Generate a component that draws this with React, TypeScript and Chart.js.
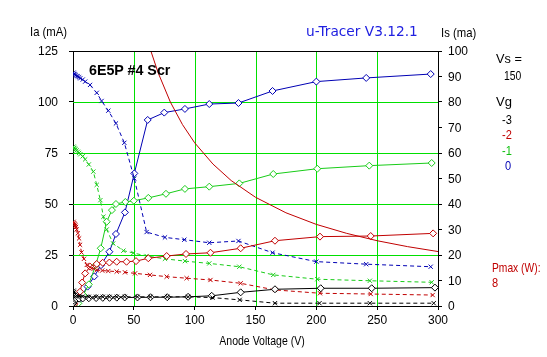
import React, { useEffect, useRef } from "react";
import { Chart, registerables } from "chart.js";

Chart.register(...registerables);

// ---------- data ----------
const xTicks = [0, 50, 100, 150, 200, 250, 300];
const iaTicks = [0, 25, 50, 75, 100, 125];
const isTicks = [0, 10, 20, 30, 40, 50, 60, 70, 80, 90, 100];

// Vg = 0 (blue)
const vIa0 = [1, 2.5, 3.8, 7, 12, 17.5, 23, 29.9, 35.3, 42.7, 50.4, 61.4, 75, 92, 112, 136, 164, 200, 241, 294];
const ia0 = [0.3, 1.2, 2.1, 5, 9.5, 14.5, 20, 26.6, 35.3, 45.9, 65, 91.2, 94.8, 96.6, 99, 99.5, 105.4, 110, 111.8, 113.7];
const vIs0 = [0.5, 1, 1.5, 2, 3, 4, 5, 6, 8, 10, 14, 19.5, 23.5, 29, 35.3, 42.2, 50.4, 60.5, 75.6, 91.5, 112, 136, 164, 200, 241, 294];
const is0 = [91.5, 91, 90.8, 90.5, 90.2, 90, 89.7, 89.3, 88.8, 88, 86.7, 83.6, 80.4, 76.6, 71.6, 64, 50, 29, 26.9, 26, 24.8, 25.5, 20.9, 17.4, 16.4, 15.4];

// Vg = -1 (green)
const vIa1 = [1.5, 4.4, 8.5, 13, 18.6, 22.8, 27.7, 32, 35.3, 43, 50, 61.9, 76.4, 92, 112, 136.7, 164.6, 200.8, 243.5, 294.8];
const ia1 = [0.3, 1.3, 5.4, 10.6, 20, 28.3, 41.3, 47, 50, 51, 51.6, 53, 55, 57.4, 58.5, 60.1, 64.7, 67.3, 68.8, 70.1];
const vIs1 = [0.5, 1, 1.5, 2, 3, 4, 5, 6, 8, 10, 13, 16.7, 19.5, 22.5, 25, 27.7, 33, 41.4, 49.6, 60.5, 75.6, 92, 112, 136.7, 164.6, 200.8, 244, 294.8];
const is1 = [62.5, 62, 61.7, 61.3, 61, 60.5, 60, 59.5, 58.7, 57.5, 55.5, 52.7, 47.5, 41.5, 35, 30, 24.5, 21.7, 20.8, 19.6, 18.5, 17.6, 16.7, 15.4, 12.2, 10.5, 9.9, 9.3];

// Vg = -2 (red)
const vIa2 = [1, 3, 5.8, 7.5, 10, 14, 19.5, 24.4, 29.9, 35.9, 44, 51.8, 61.9, 77, 92.9, 113, 137.8, 166, 203, 244.7, 296];
const ia2 = [1, 3.5, 7, 11.5, 16, 19.3, 20.6, 21.2, 21.3, 21.7, 21.7, 22, 23.4, 24.5, 25.5, 26.1, 28.3, 32, 34, 34.3, 35.6];
const vIs2 = [0.5, 1, 1.5, 2, 2.5, 3, 4, 5, 5.8, 7, 9, 11.3, 14, 17, 19.5, 24, 29, 35.9, 42.7, 51, 63.3, 77, 93.4, 113, 137.8, 166, 203, 244.7, 295.6];
const is2 = [33, 32.5, 32, 31.5, 31, 30, 28.5, 26.5, 24, 21, 18.5, 16.1, 15.2, 14.6, 14.1, 13.9, 13.7, 13.5, 13.2, 12.8, 12.2, 11.5, 10.9, 10.2, 8.9, 6.3, 5, 4.7, 4.3];

// Vg = -3 (black)
const vIa3 = [0.5, 1, 2, 3, 5, 8, 13, 19, 24.5, 30, 36, 42.5, 53, 63.7, 77.5, 94.6, 114, 137.8, 166, 203.6, 245.5, 297.5];
const ia3 = [1.5, 2.5, 3.2, 3.5, 3.6, 3.7, 3.8, 3.9, 4, 4, 4.1, 4.2, 4.2, 4.3, 4.3, 4.5, 5, 6.7, 8.2, 8.7, 8.7, 9];
const vIs3 = [0.5, 1, 2, 3, 5, 8, 13, 19, 24.5, 30, 36, 42.5, 53, 63.7, 77.5, 94.6, 114.6, 137, 166, 202.6, 244, 296.5];
const is3 = [6, 5.5, 4.5, 4, 3.8, 3.7, 3.6, 3.6, 3.6, 3.6, 3.6, 3.6, 3.6, 3.6, 3.6, 3.6, 3.3, 2.4, 1.1, 1.1, 1.1, 1.1];

// Pmax = 8 W
const vPmax = [64, 70, 80, 90, 100, 115, 130, 150, 175, 200, 225, 250, 275, 300];
const iPmax = [125, 114.3, 100, 88.9, 80, 69.6, 61.5, 53.3, 45.7, 40, 35.6, 32, 29.1, 26.7];

// ---------- styles ----------
const BLUE = "#0000b4";
const GREEN = "#18cc18";
const RED = "#c00000";
const BLACK = "#000000";
const GRID = "#00e000";
const SANS = '"Liberation Sans", Arial, sans-serif';

const zip = (xs: number[], ys: number[]) => xs.map((x, i) => ({ x, y: ys[i] }));

function iaSet(label: string, xs: number[], ys: number[], color: string) {
  return {
    label,
    data: zip(xs, ys),
    yAxisID: "y",
    borderColor: color,
    backgroundColor: "#ffffff",
    pointBackgroundColor: "#ffffff",
    pointBorderColor: color,
    borderWidth: 1,
    pointStyle: "rectRot",
    pointRadius: 3.5,
    pointBorderWidth: 1,
    tension: 0,
  };
}

function isSet(label: string, xs: number[], ys: number[], color: string) {
  return {
    label,
    data: zip(xs, ys),
    yAxisID: "y2",
    borderColor: color,
    backgroundColor: color,
    pointBorderColor: color,
    borderWidth: 1,
    borderDash: [4, 3],
    pointStyle: "crossRot",
    pointRadius: 3,
    pointBorderWidth: 1,
    tension: 0,
  };
}

// crisp green grid inside the plot + black top border
const gridPlugin = {
  id: "greenGrid",
  beforeDatasetsDraw(chart: any) {
    const { ctx, chartArea, scales } = chart;
    const { left, right, top, bottom } = chartArea;
    ctx.save();
    ctx.strokeStyle = GRID;
    ctx.lineWidth = 1;
    ctx.beginPath();
    xTicks.slice(1, -1).forEach((v) => {
      const px = Math.round(scales.x.getPixelForValue(v)) + 0.5;
      ctx.moveTo(px, top);
      ctx.lineTo(px, bottom);
    });
    iaTicks.slice(1, -1).forEach((v) => {
      const py = Math.round(scales.y.getPixelForValue(v)) + 0.5;
      ctx.moveTo(left, py);
      ctx.lineTo(right, py);
    });
    ctx.stroke();
    ctx.restore();
  },
  afterDraw(chart: any) {
    const { ctx, chartArea } = chart;
    ctx.save();
    ctx.strokeStyle = "#000";
    ctx.lineWidth = 1;
    ctx.beginPath();
    const y = Math.round(chartArea.top) + 0.5;
    ctx.moveTo(chartArea.left, y);
    ctx.lineTo(chartArea.right, y);
    ctx.stroke();
    ctx.restore();
  },
};

function ChartCanvas() {
  const ref = useRef<HTMLCanvasElement | null>(null);
  useEffect(() => {
    if (!ref.current) return;
    const tickFont = { family: SANS, size: 12 };
    const chart = new Chart(ref.current, {
      type: "line",
      data: {
        datasets: [
          { label: "Pmax", data: zip(vPmax, iPmax), yAxisID: "y", borderColor: RED, borderWidth: 1, pointRadius: 0, tension: 0 } as any,
          isSet("Is -3", vIs3, is3, BLACK),
          iaSet("Ia -3", vIa3, ia3, BLACK),
          isSet("Is -2", vIs2, is2, RED),
          iaSet("Ia -2", vIa2, ia2, RED),
          isSet("Is -1", vIs1, is1, GREEN),
          iaSet("Ia -1", vIa1, ia1, GREEN),
          isSet("Is 0", vIs0, is0, BLUE),
          iaSet("Ia 0", vIa0, ia0, BLUE),
        ],
      },
      options: {
        animation: false,
        responsive: false,
        devicePixelRatio: 1,
        layout: { padding: { top: 51, left: 0, right: 0, bottom: 0 } },
        plugins: { legend: { display: false }, tooltip: { enabled: false }, title: { display: false } },
        scales: {
          x: {
            type: "linear",
            min: 0,
            max: 300,
            afterBuildTicks: (s: any) => { s.ticks = xTicks.map((v) => ({ value: v })); },
            afterFit: (s: any) => { s.height = 51; },
            ticks: { font: tickFont, color: "#000", padding: 3, maxRotation: 0, autoSkip: false },
            grid: { drawOnChartArea: false, tickColor: "#000", tickLength: 4, lineWidth: 1 },
            border: { color: "#000", width: 1 },
          },
          y: {
            type: "linear",
            position: "left",
            min: 0,
            max: 125,
            afterBuildTicks: (s: any) => { s.ticks = iaTicks.map((v) => ({ value: v })); },
            afterFit: (s: any) => { s.width = 73; },
            ticks: { font: tickFont, color: "#000", padding: 11, labelOffset: 1, autoSkip: false },
            grid: { drawOnChartArea: false, tickColor: "#000", tickLength: 4, lineWidth: 1 },
            border: { color: "#000", width: 1 },
          },
          y2: {
            type: "linear",
            position: "right",
            min: 0,
            max: 100,
            afterBuildTicks: (s: any) => { s.ticks = isTicks.map((v) => ({ value: v })); },
            afterFit: (s: any) => { s.width = 109; },
            ticks: { font: tickFont, color: "#000", padding: 6, labelOffset: 1, autoSkip: false },
            grid: { drawOnChartArea: false, tickColor: "#000", tickLength: 4 },
            border: { color: "#000", width: 1 },
          },
        },
      } as any,
      plugins: [gridPlugin],
    });
    return () => chart.destroy();
  }, []);
  return <canvas ref={ref} width={547} height={357} style={{ display: "block", width: 547, height: 357 }} />;
}

type LabelProps = { x: number; y: number; text: string; color?: string; font?: string; size?: number; bold?: boolean; center?: boolean; squeeze?: number };

function Label({ x, y, text, color = "#000", font = SANS, size = 13, bold = false, center = false, squeeze = 0.85 }: LabelProps) {
  return (
    <div
      style={{
        position: "absolute",
        left: x,
        top: y,
        transform: center ? `translate(-50%, -50%) scaleX(${squeeze})` : `translateY(-50%) scaleX(${squeeze})`,
        transformOrigin: center ? "center center" : "left center",
        fontFamily: font,
        fontSize: size,
        fontWeight: bold ? 700 : 400,
        color,
        whiteSpace: "nowrap",
        lineHeight: 1,
      }}
    >
      {text}
    </div>
  );
}

export default function App() {
  return (
    <div style={{ position: "fixed", left: 0, top: 0, width: 547, height: 357, background: "#fff", overflow: "hidden" }}>
      <ChartCanvas />
      <Label x={30} y={31} text="Ia (mA)" squeeze={0.87} />
      <Label x={306} y={31} text="u-Tracer V3.12.1" color="#2020e0" font='"DejaVu Sans", sans-serif' size={14} squeeze={0.98} />
      <Label x={441} y={32} text="Is (ma)" squeeze={0.87} />
      <Label x={89} y={69} text="6E5P #4 Scr" bold size={15} squeeze={0.95} />
      <Label x={496} y={58} text="Vs =" squeeze={0.98} />
      <Label x={504} y={75} text="150" squeeze={0.8} />
      <Label x={496} y={101} text="Vg" squeeze={1} />
      <Label x={502} y={119} text="-3" color={BLACK} />
      <Label x={502} y={134} text="-2" color={RED} />
      <Label x={502} y={150} text="-1" color="#10c010" />
      <Label x={505} y={165} text="0" color={BLUE} />
      <Label x={492} y={267} text="Pmax (W):" color={RED} squeeze={0.79} />
      <Label x={492} y={282} text="8" color={RED} />
      <Label x={262} y={340} text="Anode Voltage (V)" center squeeze={0.81} />
    </div>
  );
}
